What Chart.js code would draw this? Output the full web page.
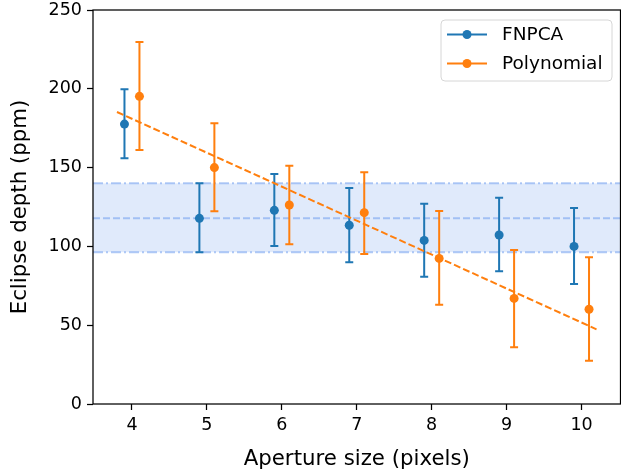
<!DOCTYPE html>
<html>
<head>
<meta charset="utf-8">
<script src="https://cdn.jsdelivr.net/npm/chart.js@4/dist/chart.umd.min.js"></script>
<style>
    html, body { margin: 0; padding: 0; background: #fff; }
    #wrap { width: 621px; height: 476px; overflow: hidden; }
</style>
</head>
<body>
<div id="wrap"><canvas id="chart" width="625" height="476"></canvas></div>
<script>
// FNPCA points (x offset -0.1 from the aperture size)
const xFnpca = [3.9, 4.9, 5.9, 6.9, 7.9, 8.9, 9.9];
const yFnpca = [177.6, 117.8, 122.9, 113.4, 103.8, 107.2, 100.0];
const fnpcaHi = [199.7, 140.0, 145.9, 137.0, 127.1, 130.9, 124.4];
const fnpcaLo = [155.9, 96.3, 100.3, 89.9, 80.8, 84.2, 76.1];

// Polynomial points (x offset +0.1)
const xPoly = [4.1, 5.1, 6.1, 7.1, 8.1, 9.1, 10.1];
const yPoly = [195.2, 150.0, 126.3, 121.4, 92.4, 67.0, 60.1];
const polyHi = [229.7, 178.1, 151.2, 147.0, 122.5, 97.7, 93.1];
const polyLo = [161.2, 122.3, 101.3, 95.2, 63.0, 36.0, 27.5];

// linear fit to the polynomial points
const fitX = [3.8, 10.2];
const fitY = [185.3, 47.4];

// shaded band: low edge, mean, high edge
const bandLow = 96.3;
const bandMid = 117.8;
const bandHigh = 140.0;

const xTicks = [4, 5, 6, 7, 8, 9, 10];
const yTicks = [0, 50, 100, 150, 200, 250];
const legendLabels = ["FNPCA", "Polynomial"];

const BLUE = "#1f77b4";
const ORANGE = "#ff7f0e";
const FONT = "'DejaVu Sans', sans-serif";

const toPoints = (xs, ys) => xs.map((x, i) => ({ x: x, y: ys[i] }));

// band behind everything
const bandPlugin = {
    id: "band",
    beforeDatasetsDraw(chart) {
        const { ctx, chartArea, scales } = chart;
        const yHi = scales.y.getPixelForValue(bandHigh);
        const yLo = scales.y.getPixelForValue(bandLow);
        const yMid = scales.y.getPixelForValue(bandMid);
        ctx.save();
        ctx.fillStyle = "rgba(100, 149, 237, 0.2)";
        ctx.fillRect(chartArea.left, yHi, chartArea.right - chartArea.left, yLo - yHi);
        ctx.strokeStyle = "rgba(100, 149, 237, 0.5)";
        ctx.lineWidth = 2;
        const hline = (y, dash) => {
            ctx.setLineDash(dash);
            ctx.beginPath();
            ctx.moveTo(chartArea.left, y);
            ctx.lineTo(chartArea.right, y);
            ctx.stroke();
        };
        hline(yHi, [10, 3, 2, 3]);
        hline(yLo, [10, 3, 2, 3]);
        hline(yMid, [7, 3]);
        ctx.restore();
    },
};

// vertical error bars with caps
const errorPlugin = {
    id: "errorbars",
    beforeDatasetsDraw(chart) {
        const { ctx, scales } = chart;
        ctx.save();
        chart.data.datasets.forEach((ds) => {
            if (!ds.errLo) return;
            ctx.strokeStyle = ds.borderColor;
            ctx.lineWidth = 2;
            ds.data.forEach((p, i) => {
                const x = scales.x.getPixelForValue(p.x);
                const top = scales.y.getPixelForValue(ds.errHi[i]);
                const bot = scales.y.getPixelForValue(ds.errLo[i]);
                ctx.beginPath();
                ctx.moveTo(x, top);
                ctx.lineTo(x, bot);
                ctx.moveTo(x - 4, top);
                ctx.lineTo(x + 4, top);
                ctx.moveTo(x - 4, bot);
                ctx.lineTo(x + 4, bot);
                ctx.stroke();
            });
        });
        ctx.restore();
    },
};

// frame and matplotlib style legend
const framePlugin = {
    id: "frame",
    afterDraw(chart) {
        const { ctx, chartArea } = chart;
        ctx.save();
        ctx.strokeStyle = "#000";
        ctx.lineWidth = 1.25;
        ctx.strokeRect(chartArea.left, chartArea.top, chartArea.right - chartArea.left, chartArea.bottom - chartArea.top);

        // legend box
        const lx = 441, ly = 20, lw = 171, lh = 61;
        ctx.fillStyle = "rgba(255,255,255,0.8)";
        ctx.strokeStyle = "#d6d6d6";
        ctx.lineWidth = 1;
        ctx.beginPath();
        ctx.roundRect(lx, ly, lw, lh, 4);
        ctx.fill();
        ctx.stroke();

        const colors = [BLUE, ORANGE];
        legendLabels.forEach((label, i) => {
            const y = 34.5 + i * 29;
            ctx.strokeStyle = colors[i];
            ctx.lineWidth = 2;
            ctx.beginPath();
            ctx.moveTo(447, y);
            ctx.lineTo(487, y);
            ctx.stroke();
            ctx.fillStyle = colors[i];
            ctx.beginPath();
            ctx.arc(467, y, 4.5, 0, Math.PI * 2);
            ctx.fill();
            ctx.fillStyle = "#000";
            ctx.font = "18.5px " + FONT;
            ctx.textBaseline = "middle";
            ctx.fillText(label, 502, y + 1);
        });
        ctx.restore();
    },
};

const config = {
    type: "scatter",
    data: {
        datasets: [
            {
                label: "fit",
                type: "line",
                data: toPoints(fitX, fitY),
                borderColor: ORANGE,
                borderWidth: 2,
                borderDash: [7, 3],
                pointRadius: 0,
                fill: false,
                order: 0,
            },
            {
                label: legendLabels[0],
                data: toPoints(xFnpca, yFnpca),
                errLo: fnpcaLo,
                errHi: fnpcaHi,
                borderColor: BLUE,
                backgroundColor: BLUE,
                pointRadius: 4.5,
                pointBorderWidth: 0,
                order: 2,
            },
            {
                label: legendLabels[1],
                data: toPoints(xPoly, yPoly),
                errLo: polyLo,
                errHi: polyHi,
                borderColor: ORANGE,
                backgroundColor: ORANGE,
                pointRadius: 4.5,
                pointBorderWidth: 0,
                order: 1,
            },
        ],
    },
    options: {
        responsive: false,
        animation: false,
        layout: { padding: { left: 0, top: 10, right: 1, bottom: 0 } },
        plugins: {
            legend: { display: false },
            tooltip: { enabled: false },
        },
        scales: {
            x: {
                type: "linear",
                min: 3.48,
                max: 10.52,
                afterBuildTicks: (scale) => {
                    scale.ticks = xTicks.map((v) => ({ value: v }));
                },
                afterFit: (scale) => {
                    scale.height = 72;
                    scale.paddingLeft = 0;
                    scale.paddingRight = 0;
                },
                grid: { drawOnChartArea: false, drawTicks: true, tickLength: 6, color: "#000", tickWidth: 1.25 },
                border: { display: false },
                ticks: { color: "#000", font: { family: FONT, size: 17.5 }, padding: 5, maxRotation: 0 },
                title: {
                    display: true,
                    text: "Aperture size (pixels)",
                    color: "#000",
                    font: { family: FONT, size: 21.3 },
                    padding: { top: 0, bottom: 4 },
                },
            },
            y: {
                type: "linear",
                min: 0,
                max: 250,
                afterBuildTicks: (scale) => {
                    scale.ticks = yTicks.map((v) => ({ value: v }));
                },
                afterFit: (scale) => {
                    scale.width = 93;
                    scale.paddingTop = 0;
                    scale.paddingBottom = 0;
                },
                grid: { drawOnChartArea: false, drawTicks: true, tickLength: 6, color: "#000", tickWidth: 1.25 },
                border: { display: false },
                ticks: { color: "#000", font: { family: FONT, size: 17.5 }, padding: 5 },
                title: {
                    display: true,
                    text: "Eclipse depth (ppm)",
                    color: "#000",
                    font: { family: FONT, size: 21.3 },
                    padding: { top: 8, bottom: 0 },
                },
            },
        },
    },
    plugins: [bandPlugin, errorPlugin, framePlugin],
};

const chartD = document.getElementById("chart");
const myChart = new Chart(chartD, config);
</script>
</body>
</html>
